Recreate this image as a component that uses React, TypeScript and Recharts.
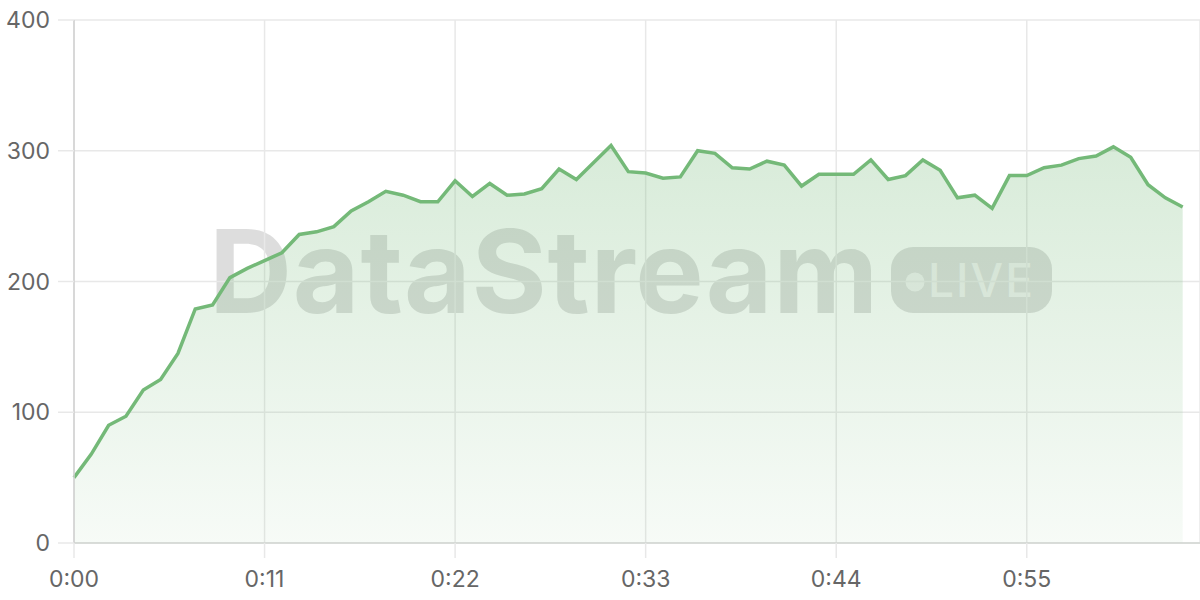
import React from 'react';
import { Area, AreaChart, CartesianGrid, XAxis, YAxis } from 'recharts';

// throughput samples, one per second
const seconds: number[] = Array.from({ length: 65 }, (_, i) => i);
const values: number[] = [
  50, 68, 90, 97, 117, 125, 145, 179, 182, 203,
  210, 216, 222, 236, 238, 242, 254, 261, 269, 266,
  261, 261, 277, 265, 275, 266, 267, 271, 286, 278,
  291, 304, 284, 283, 279, 280, 300, 298, 287, 286,
  292, 289, 273, 282, 282, 282, 293, 278, 281, 293,
  285, 264, 266, 256, 281, 281, 287, 289, 294, 296,
  303, 295, 274, 264, 257,
];
const xTicks: number[] = [0, 11, 22, 33, 44, 55];
const yTicks: number[] = [0, 100, 200, 300, 400];

const GREEN = '#74b978';
const FONT = 'Inter, "Noto Sans", sans-serif';

const fmtTime = (s: number) => `${Math.floor(s / 60)}:${String(s % 60).padStart(2, '0')}`;

const Watermark: React.FC = () => (
  <svg width={1200} height={600} style={{ position: 'absolute', left: 0, top: 0 }}>
    <g fill="#7a7a7a" fillOpacity={0.26} fontFamily={FONT}>
      <text x={209} y={313} fontSize={115} fontWeight={700} letterSpacing={0.8}>
        DataStream
      </text>
      <rect x={891} y={247} width={161} height={66} rx={22} />
    </g>
    <circle cx={915} cy={282} r={9.5} fill="#ffffff" fillOpacity={0.6} />
    <text
      x={928}
      y={297}
      fontSize={46}
      fontWeight={500}
      fontFamily={FONT}
      fill="#ffffff"
      fillOpacity={0.6}
      letterSpacing={2}
    >
      LIVE
    </text>
  </svg>
);

export default function App() {
  const data = seconds.map((t, i) => ({ t, v: values[i] }));

  return (
    <div style={{ position: 'absolute', left: 0, top: 0, width: 1200, height: 600, background: '#fff' }}>
      <Watermark />
      <div style={{ position: 'absolute', left: 0, top: 0 }}>
        <AreaChart width={1200} height={600} data={data} margin={{ top: 20, right: 0, bottom: 0, left: 0 }}>
          <defs>
            <linearGradient id="streamFill" x1="0" y1="0" x2="0" y2="1">
              <stop offset="0%" stopColor={GREEN} stopOpacity={0.28} />
              <stop offset="100%" stopColor={GREEN} stopOpacity={0.06} />
            </linearGradient>
          </defs>
          <CartesianGrid stroke="#e8e8e8" strokeWidth={1.5} />
          <XAxis
            dataKey="t"
            type="number"
            domain={[0, 65]}
            ticks={xTicks}
            tickFormatter={fmtTime}
            height={57}
            tickSize={15}
            tickMargin={13}
            axisLine={{ stroke: '#d2d6d2', strokeWidth: 1.5 }}
            tickLine={{ stroke: '#e8e8e8', strokeWidth: 1.5 }}
            tick={{ fill: '#666', fontSize: 23, fontFamily: FONT }}
          />
          <YAxis
            domain={[0, 400]}
            ticks={yTicks}
            width={74}
            tickSize={16}
            tickMargin={8}
            axisLine={{ stroke: '#d0d0d0', strokeWidth: 1.5 }}
            tickLine={{ stroke: '#e8e8e8', strokeWidth: 1.5 }}
            tick={{ fill: '#666', fontSize: 23, fontFamily: FONT }}
          />
          <Area
            type="linear"
            dataKey="v"
            stroke={GREEN}
            strokeWidth={3.5}
            fill="url(#streamFill)"
            fillOpacity={1}
            dot={false}
            activeDot={false}
            isAnimationActive={false}
          />
        </AreaChart>
      </div>
    </div>
  );
}
